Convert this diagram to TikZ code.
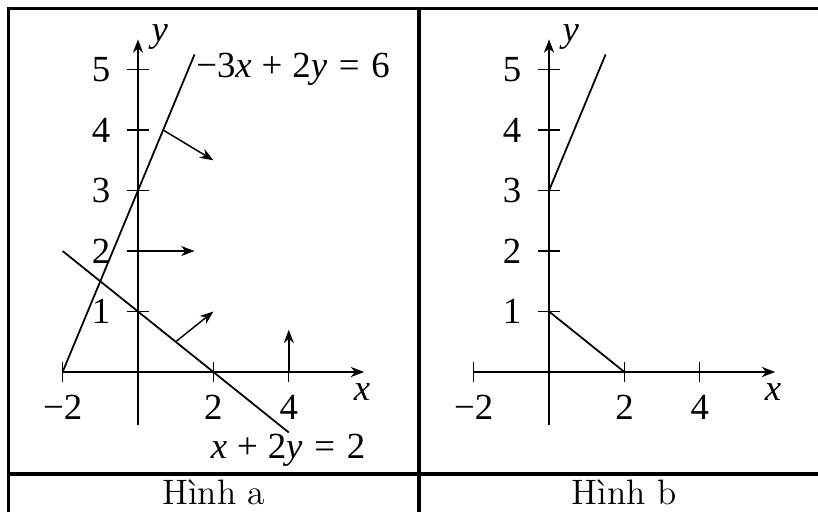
\documentclass[tikz,border=0pt]{standalone}
\usepackage{fontspec}
\newfontfamily\plotfont{Liberation Serif}
\usetikzlibrary{arrows.meta}

\begin{document}
\begin{tikzpicture}[
  >={Stealth[length=1.6mm, width=1.2mm, inset=0.5mm]},
  frame/.style={line width=1.1pt},
  axisline/.style={line width=0.8pt, ->},
  tickmark/.style={line width=0.4pt},
  gline/.style={line width=0.6pt},
  normvec/.style={line width=0.5pt, ->},
  lbl/.style={font=\plotfont\fontsize{12.5}{14}\selectfont, inner sep=0pt},
  captxt/.style={font=\fontsize{12}{14}\selectfont, inner sep=0pt}]
  \useasboundingbox (-1.647,-1.671) rectangle (8.116,4.440);
  \coordinate (nw) at (-1.546,4.339);
  \coordinate (sw) at (-1.546,-1.671);
  \coordinate (ne) at (8.116,4.339);
  \coordinate (mt) at (3.354,4.339);
  \coordinate (mb) at (3.354,-1.671);
  \coordinate (hl) at (-1.546,-1.217);
  \coordinate (hr) at (8.116,-1.217);
  \draw[frame] (sw) -- (nw) -- (ne);
  \draw[frame] (mt) -- (mb);
  \draw[frame] (hl) -- (hr);
  \node[captxt] (capa) at (0.903,-1.44) {Hình a};
  \node[captxt] (capb) at (5.80,-1.44) {Hình b};

  \foreach \p/\dx in {a/0,b/4.906}{
  \begin{scope}[xshift=\dx cm, x=0.45cm, y=0.722cm]
    \draw[axisline] (-2,0) -- (6,0);
    \draw[axisline] (0,-0.88) -- (0,5.5);
    \foreach \y in {1,...,5}{
      \draw[tickmark] (-0.3,\y) -- (0.3,\y);
      \node[lbl, anchor=east] (\p y\y) at (-0.72,\y) {\y};
    }
    \foreach \x/\t in {-2/−2,2/2,4/4}{
      \draw[tickmark] (\x,-0.16) -- (\x,0.16);
      \node[lbl] (\p x\x) at (\x,-0.58) {\t};
    }
    \node[lbl] (\p xl) at (5.94,-0.33) {\textit{x}};
    \node[lbl] (\p yl) at (0.58,5.53) {\textit{y}};
  \end{scope}}

  \begin{scope}[x=0.45cm, y=0.722cm]
    \draw[gline] (-2,0) -- (1.5,5.25);
    \draw[gline] (-2,2) -- (4,-1);
    \draw[normvec] (0.667,4) -- (2,3.5);
    \draw[normvec] (0,2) -- (1.5,2);
    \draw[normvec] (1,0.5) -- (2,1);
    \draw[normvec] (4,0) -- (4,0.7);
    \node[lbl, anchor=west] (eqa) at (1.53,5)
      {−3\textit{x}\hspace{0.27em}+\hspace{0.27em}2\textit{y}\hspace{0.32em}=\hspace{0.32em}6};
    \node[lbl] (eqb) at (3.98,-1.29)
      {\textit{x}\hspace{0.27em}+\hspace{0.27em}2\textit{y}\hspace{0.32em}=\hspace{0.32em}2};
  \end{scope}

  \begin{scope}[xshift=4.906cm, x=0.45cm, y=0.722cm]
    \draw[gline] (0,3) -- (1.5,5.25);
    \draw[gline] (0,1) -- (2,0);
  \end{scope}
\end{tikzpicture}
\end{document}
